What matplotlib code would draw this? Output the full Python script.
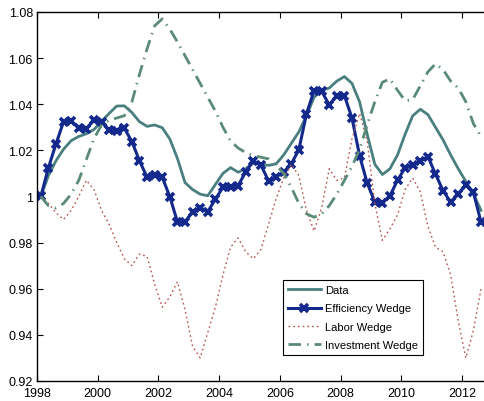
import matplotlib
matplotlib.use('Agg')
import matplotlib.pyplot as plt
import numpy as np

plt.rcParams['font.family'] = ['Liberation Sans', 'DejaVu Sans']

# Quarterly observations, 1998Q1 .. 2012Q3 (plotted at mid-quarter)
years = 1998.125 + 0.25 * np.arange(59)

data = [1.000, 1.009, 1.0155, 1.0205, 1.0242, 1.026, 1.0272, 1.029, 1.0325, 1.036,
        1.0392, 1.0393, 1.0364, 1.0324, 1.0304, 1.031, 1.0298, 1.0249, 1.0165, 1.006,
        1.003, 1.001, 1.0003, 1.0052, 1.010, 1.0125, 1.0105, 1.012, 1.0145, 1.0138,
        1.0135, 1.0141, 1.018, 1.023, 1.028, 1.035, 1.043, 1.046, 1.047, 1.050,
        1.052, 1.049, 1.041, 1.027, 1.014, 1.0095, 1.012, 1.018, 1.027, 1.035,
        1.0378, 1.0355, 1.030, 1.0245, 1.018, 1.012, 1.0065, 1.001, 0.994]

efficiency = [1.000, 1.0124, 1.0228, 1.0324, 1.0327, 1.0296, 1.0293, 1.0332, 1.0324, 1.0288,
              1.0283, 1.0296, 1.0238, 1.0155, 1.0083, 1.0093, 1.0083, 0.9999, 0.989, 0.989,
              0.9934, 0.995, 0.9934, 0.9988, 1.004, 1.004, 1.0047, 1.0107, 1.0155, 1.0136,
              1.0068, 1.0086, 1.0105, 1.0141, 1.0203, 1.0358, 1.0459, 1.0456, 1.0397, 1.0437,
              1.0437, 1.034, 1.0177, 1.0058, 0.9977, 0.9972, 1.0003, 1.0071, 1.0124, 1.0138,
              1.0153, 1.0173, 1.0097, 1.0025, 0.9975, 1.0011, 1.005, 1.0018, 0.9888]

labor = [1.000, 0.997, 0.993, 0.990, 0.994, 1.000, 1.007, 1.003, 0.994, 0.988,
         0.980, 0.973, 0.970, 0.975, 0.974, 0.962, 0.952, 0.9565, 0.963, 0.951,
         0.935, 0.930, 0.941, 0.952, 0.966, 0.978, 0.982, 0.976, 0.973, 0.977,
         0.988, 0.999, 1.008, 1.014, 1.009, 0.994, 0.985, 0.995, 1.012, 1.007,
         1.008, 1.025, 1.036, 1.024, 0.997, 0.981, 0.986, 0.992, 1.003, 1.008,
         1.002, 0.987, 0.978, 0.976, 0.966, 0.946, 0.930, 0.942, 0.960]

investment = [1.000, 0.996, 0.995, 0.997, 1.001, 1.007, 1.016, 1.025, 1.031, 1.033,
              1.034, 1.035, 1.041, 1.053, 1.064, 1.074, 1.077, 1.0725, 1.067, 1.061,
              1.055, 1.049, 1.043, 1.037, 1.030, 1.024, 1.021, 1.019, 1.0177, 1.017,
              1.0163, 1.0135, 1.010, 1.004, 0.997, 0.9925, 0.991, 0.9925, 0.996, 1.001,
              1.007, 1.013, 1.0205, 1.031, 1.041, 1.0495, 1.051, 1.046, 1.0415, 1.042,
              1.048, 1.054, 1.0575, 1.055, 1.050, 1.047, 1.041, 1.0315, 1.026]

xticks = [1998, 2000, 2002, 2004, 2006, 2008, 2010, 2012]
yticks = [0.92, 0.94, 0.96, 0.98, 1.00, 1.02, 1.04, 1.06, 1.08]
ytick_labels = ['0.92', '0.94', '0.96', '0.98', '1', '1.02', '1.04', '1.06', '1.08']

fig = plt.figure(figsize=(4.85, 4.02), dpi=100)
ax = fig.add_axes([0.0763, 0.0498, 0.939, 0.918])

ax.plot(years, data, color='#4a7f80', linewidth=2.0, label='Data')
ax.plot(years, efficiency, color='#13298c', linewidth=2.2, marker='x',
        markersize=6, markeredgewidth=2.6, label='Efficiency Wedge')
ax.plot(years, labor, color='#b5524a', linewidth=1.0, linestyle=(0, (1.2, 2.2)),
        label='Labor Wedge')
ax.plot(years, investment, color='#5b8a78', linewidth=2.0,
        linestyle=(0, (4.5, 2.2, 0.5, 2.2)), label='Investment Wedge')

ax.set_xlim(1998, 2013)
ax.set_ylim(0.92, 1.08)
ax.set_xticks(xticks)
ax.set_yticks(yticks)
ax.set_yticklabels(ytick_labels)
ax.tick_params(direction='in', length=4, width=0.8, labelsize=9,
               top=True, right=True)
ax.tick_params(axis='x', pad=4)
ax.tick_params(axis='y', pad=3)
for s in ax.spines.values():
    s.set_linewidth(1.0)

leg = ax.legend(loc='lower left', bbox_to_anchor=(0.54, 0.07), borderaxespad=0,
                fontsize=8, fancybox=False, framealpha=1, edgecolor='black',
                handlelength=2.95, labelspacing=0.75, borderpad=0.45,
                handletextpad=0.36)
leg.get_frame().set_linewidth(0.8)

fig.savefig('out.png', dpi=100)
